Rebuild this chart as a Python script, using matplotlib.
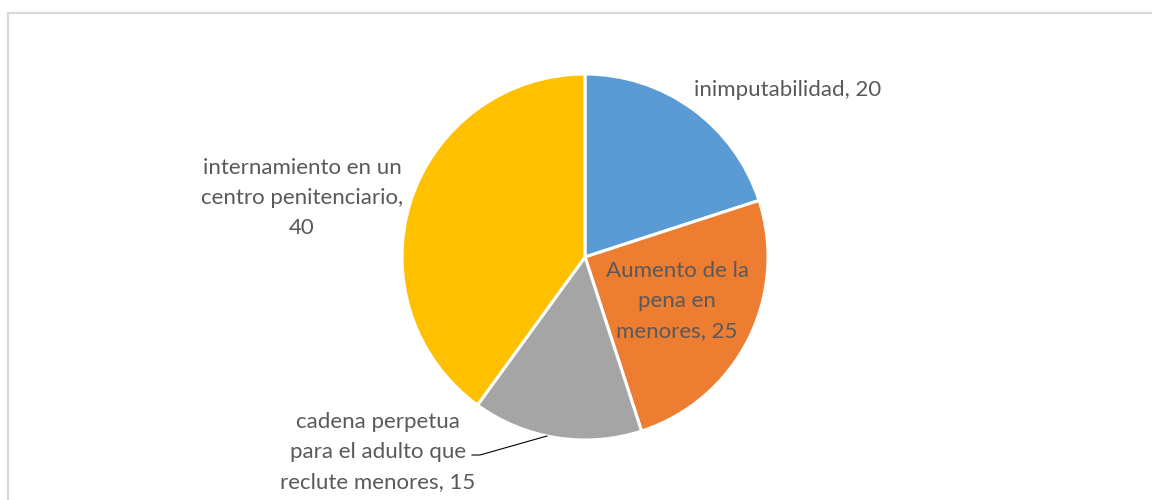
import numpy as np
import matplotlib.pyplot as plt
from matplotlib.patches import Rectangle

categories = [
    "inimputabilidad",
    "Aumento de la pena en menores",
    "cadena perpetua para el adulto que reclute menores",
    "internamiento en un centro penitenciario",
]
values = [20, 25, 15, 40]
colors = ["#5B9BD5", "#ED7D31", "#A5A5A5", "#FFC000"]

label_texts = [
    "inimputabilidad, 20",
    "Aumento de la\npena en\nmenores, 25",
    "cadena perpetua\npara el adulto que\nreclute menores, 15",
    "internamiento en un\ncentro penitenciario,\n40",
]
# label centres in pixel coords (x, y from top)
label_pos = [(788, 90), (677, 301), (378, 452), (302, 198)]

W, H = 1152, 500
fig = plt.figure(figsize=(W / 100, H / 100), dpi=100)
ax = fig.add_axes([0, 0, 1, 1])
ax.set_xlim(0, W)
ax.set_ylim(0, H)
ax.set_aspect("equal")
ax.axis("off")

# chart frame (only top/left visible)
ax.add_patch(Rectangle((8, -50), 1400, H - 13 + 50, fill=False,
                       edgecolor="#D9D9D9", linewidth=1.5))

cx, cy, r = 585, H - 257, 183
wedges, _ = ax.pie(values, colors=colors, startangle=90, counterclock=False,
                   center=(cx, cy), radius=r,
                   wedgeprops=dict(edgecolor="white", linewidth=2.2))
ax.set_xlim(0, W)
ax.set_ylim(0, H)

text_kw = dict(ha="center", va="center", color="#595959", fontsize=16,
               family=["Lato", "DejaVu Sans"], linespacing=1.6)
for i, (txt, (x, y)) in enumerate(zip(label_texts, label_pos)):
    if i == 2:
        w = wedges[i]
        ang = np.deg2rad((w.theta1 + w.theta2) / 2 - 3)
        ex, ey = cx + r * np.cos(ang), cy + r * np.sin(ang)
        ax.plot([472, 480, ex], [H - 455, H - 455, ey], color="black", lw=0.8)
    ax.text(x, H - y, txt, **text_kw)

fig.savefig("out.png", dpi=100)
